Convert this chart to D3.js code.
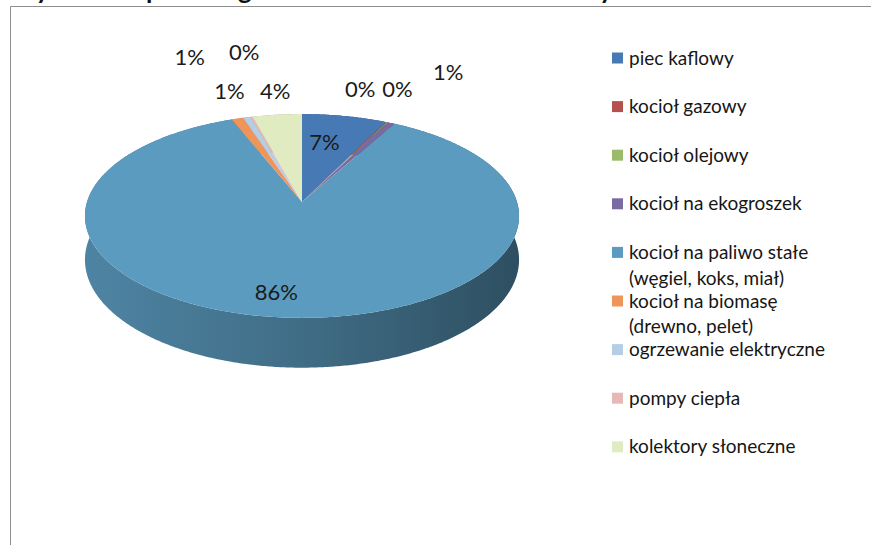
<!DOCTYPE html>
<html>
<head>
<meta charset="utf-8">
<script src="https://cdn.jsdelivr.net/npm/d3@7"></script>
<style>
  html, body { margin: 0; padding: 0; background: #fff; overflow: hidden; }
  svg { display: block; font-family: Lato, "Open Sans", "DejaVu Sans", sans-serif; }
</style>
</head>
<body>
<svg id="chart" width="871" height="545"></svg>
<script>
// ---- data ----
const title = "Wykres 5. Sposób ogrzewania w domach mieszkalnych";
const categories = [
  "piec kaflowy",
  "kocioł gazowy",
  "kocioł olejowy",
  "kocioł na ekogroszek",
  "kocioł na paliwo stałe (węgiel, koks, miał)",
  "kocioł na biomasę (drewno, pelet)",
  "ogrzewanie elektryczne",
  "pompy ciepła",
  "kolektory słoneczne"
];
const shares = [7.2, 0.1, 0.1, 0.6, 86.0, 1.0, 0.6, 0.2, 4.2]; // % of households
const colors = ["#4779b4", "#b5504e", "#9bbb6a", "#7b69a1", "#5b9bbf",
                "#f0955a", "#b6cde6", "#e6b9b8", "#e1ebc2"];
// label shift from the rim point at each slice's mid-angle (collision layout)
const labelNudge = [[-20, 26], [-26, -33], [10, -33], [57, -51], [-10, -26],
                    [-8, -28], [-57, -60], [-7, -65], [-2, -24]];

// ---- layout ----
const svg = d3.select("#chart");
const cx = 302, cy = 202, rx = 215, ry = 100, depth = 43, k = 0.137;

// clipped title above the chart frame
svg.append("text")
  .attr("x", 9).attr("y", -1)
  .attr("font-size", 26).attr("font-weight", 700).attr("fill", "#111")
  .text(title);
// frame: top and left edges
svg.append("path")
  .attr("d", "M10.5,545V6.5H871")
  .attr("fill", "none").attr("stroke", "#8e8e8e").attr("stroke-width", 1);

// perspective projection of a point on the disc (angle a, radius r, drop z)
function proj(a, r = 1, z = 0) {
  const u = Math.sin(a) * r, v = -Math.cos(a) * r;
  const s = 1 / (1 - k * v);
  return [cx + rx * u * s, cy + (ry * v + z) * s];
}
function arcPoints(a0, a1, z) {
  const n = Math.max(2, Math.ceil(Math.abs(a1 - a0) / (Math.PI / 360)));
  return d3.range(n + 1).map(i => proj(a0 + (a1 - a0) * i / n, 1, z));
}
const line = d3.line().curve(d3.curveLinear);

const arcs = d3.pie().sort(null).value(d => d)(shares);

const defs = svg.append("defs");
arcs.forEach((d, i) => {
  const c = d3.color(colors[i]);
  const g = defs.append("linearGradient")
    .attr("id", "side" + i).attr("gradientUnits", "userSpaceOnUse")
    .attr("x1", cx - rx).attr("x2", cx + rx).attr("y1", 0).attr("y2", 0);
  g.append("stop").attr("offset", 0).attr("stop-color", c.darker(0.45));
  g.append("stop").attr("offset", 0.5).attr("stop-color", c.darker(1.0));
  g.append("stop").attr("offset", 1).attr("stop-color", c.darker(1.9));
});

const pie = svg.append("g");
// outer walls, back ones first
const lowest = d => Math.max(...arcPoints(d.startAngle, d.endAngle, 0).map(p => p[1]));
arcs.map((d, i) => i)
  .sort((a, b) => lowest(arcs[a]) - lowest(arcs[b]))
  .forEach(i => {
    const d = arcs[i];
    if (d.endAngle - d.startAngle <= 0) return;
    const pts = arcPoints(d.startAngle, d.endAngle, 0)
      .concat(arcPoints(d.endAngle, d.startAngle, depth));
    pie.append("path").attr("d", line(pts) + "Z").attr("fill", `url(#side${i})`);
  });
// top faces
arcs.forEach((d, i) => {
  const pts = [proj(0, 0)].concat(arcPoints(d.startAngle, d.endAngle, 0));
  pie.append("path").attr("d", line(pts) + "Z").attr("fill", colors[i]);
});

// value labels
arcs.forEach((d, i) => {
  const mid = (d.startAngle + d.endAngle) / 2;
  const p = proj(mid);
  svg.append("text")
    .attr("x", p[0] + labelNudge[i][0]).attr("y", p[1] + labelNudge[i][1])
    .attr("text-anchor", "middle").attr("dy", "0.36em")
    .attr("font-size", 22).attr("fill", "#1a1a1a")
    .text(Math.round(d.value) + "%");
});

// legend
const legend = svg.append("g").attr("transform", "translate(612,58)");
categories.forEach((name, i) => {
  const g = legend.append("g").attr("transform", `translate(0,${i * 48.6})`);
  g.append("rect").attr("x", 0).attr("y", -5.5).attr("width", 11).attr("height", 11)
    .attr("fill", colors[i]);
  const lines = name.split(/ (?=\()/);
  const t = g.append("text").attr("x", 17).attr("y", 0)
    .attr("font-size", 19).attr("fill", "#161616");
  lines.forEach((ln, j) => t.append("tspan").attr("x", 17).attr("dy", j ? 25.5 : "0.35em").text(ln));
});
</script>
</body>
</html>
